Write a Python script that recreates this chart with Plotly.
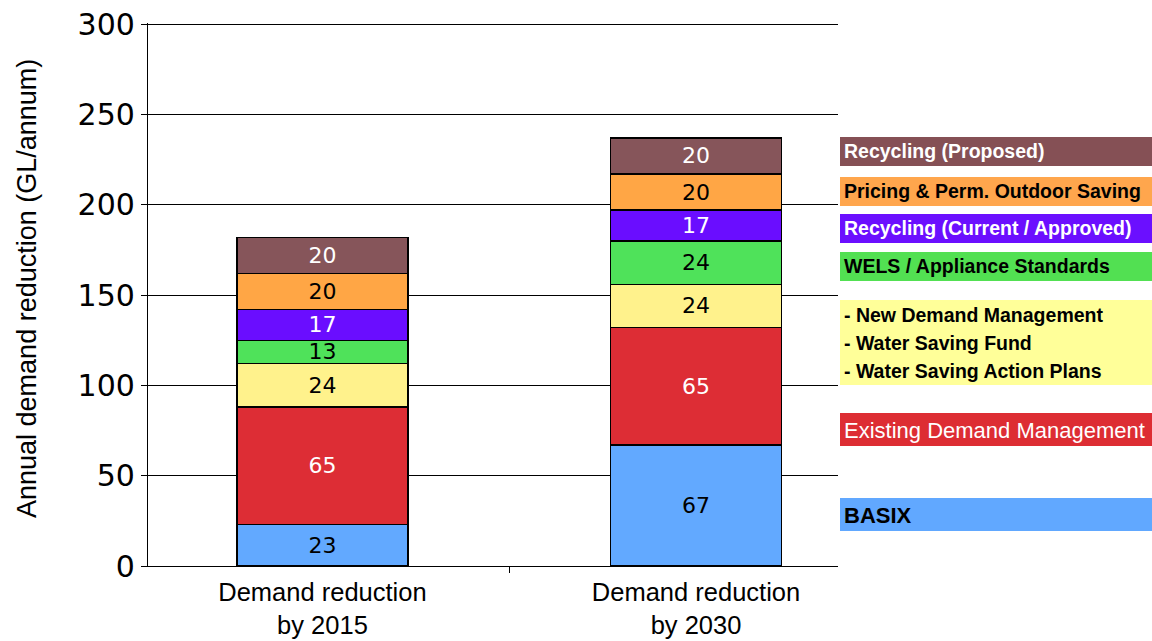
import plotly.graph_objects as go

# ---------------- data ----------------
categories = ["Demand reduction<br>by 2015", "Demand reduction<br>by 2030"]
series_names = [
    "BASIX",
    "Existing Demand Management",
    "New Demand Management / Water Saving Fund / Water Saving Action Plans",
    "WELS / Appliance Standards",
    "Recycling (Current / Approved)",
    "Pricing & Perm. Outdoor Saving",
    "Recycling (Proposed)",
]
basix = [23, 67]
existing_dm = [65, 65]
new_dm = [24, 24]
wels = [13, 24]
recycling_current = [17, 17]
pricing = [20, 20]
recycling_proposed = [20, 20]
series_values = [basix, existing_dm, new_dm, wels, recycling_current, pricing, recycling_proposed]

legend_lines = [
    ["BASIX"],
    ["Existing Demand Management"],
    ["- New Demand Management", "- Water Saving Fund", "- Water Saving Action Plans"],
    ["WELS / Appliance Standards"],
    ["Recycling (Current / Approved)"],
    ["Pricing & Perm. Outdoor Saving"],
    ["Recycling (Proposed)"],
]
y_tick_values = [0, 50, 100, 150, 200, 250, 300]
y_title = "Annual demand reduction (GL/annum)"

# ---------------- styles ----------------
bar_colors = ["#62A9FF", "#DD2D35", "#FFF28C", "#4FE25A", "#6A0DFF", "#FFA645", "#86555A"]
legend_box_colors = ["#61A8FF", "#DD2D33", "#FFFF99", "#52E052", "#6B0FFF", "#FFA64D", "#855055"]
label_colors = ["black", "white", "black", "black", "white", "black", "white"]
legend_bold = [True, False, True, True, True, True, True]
legend_font_size = [22, 22, 19.5, 19.5, 19.5, 19.5, 19.5]
# legend box pixel geometry (top, bottom) and text line centres
legend_box_px = [(498, 531), (413, 446), (300, 385), (252, 281), (214, 243), (177, 206), (137, 166)]
legend_text_px = [[515], [430], [315, 343, 371], [266], [228], [191], [151]]

L, R, T, B = 148, 838, 23, 566
W, H = 1152, 641
PW, PH = R - L, B - T


def px_x(x):
    return (x - L) / PW


def px_y(y):
    return (B - y) / PH


ARIAL = "Liberation Sans, Arial, sans-serif"
VERDANA = "DejaVu Sans, Verdana, sans-serif"

fig = go.Figure()
for name, vals, col, lc in zip(series_names, series_values, bar_colors, label_colors):
    fig.add_trace(go.Bar(
        x=categories, y=vals, name=name,
        marker=dict(color=col, line=dict(color="black", width=1.3)),
        width=0.458,
        text=vals, texttemplate="%{text}", textposition="inside",
        insidetextanchor="middle", constraintext="none", textangle=0,
        textfont=dict(family=VERDANA, size=22, color=lc),
        hoverinfo="skip",
    ))

shapes = []
annotations = []
for (top, bot), col, lines, ys, bold, fs, tc in zip(
        legend_box_px, legend_box_colors, legend_lines, legend_text_px,
        legend_bold, legend_font_size, label_colors):
    shapes.append(dict(type="rect", xref="paper", yref="paper",
                       x0=px_x(840), x1=px_x(1152), y0=px_y(bot), y1=px_y(top),
                       fillcolor=col, line=dict(width=0), layer="above"))
    for line, yy in zip(lines, ys):
        annotations.append(dict(
            xref="paper", yref="paper", x=px_x(842), y=px_y(yy),
            xanchor="left", yanchor="middle", showarrow=False,
            text=f"<b>{line}</b>" if bold else line,
            font=dict(family=ARIAL, size=fs, color=tc),
        ))

annotations.append(dict(
    xref="paper", yref="paper", x=px_x(27), y=px_y(289),
    xanchor="center", yanchor="middle", showarrow=False, textangle=-90,
    text=y_title, font=dict(family=ARIAL, size=27, color="black"),
))

fig.update_layout(
    barmode="stack",
    width=W, height=H,
    margin=dict(l=L, r=W - R, t=T, b=H - B, autoexpand=False),
    paper_bgcolor="white", plot_bgcolor="white",
    showlegend=False,
    shapes=shapes, annotations=annotations,
    xaxis=dict(
        type="category", range=[-0.467, 1.380], automargin=False,
        showline=True, linecolor="black", linewidth=1.3,
        ticks="outside", tickson="boundaries", ticklen=6, tickcolor="black",
        showgrid=False, ticklabelstandoff=3,
        tickfont=dict(family=ARIAL, size=25.5, color="black"),
    ),
    yaxis=dict(
        range=[0, 300.6], tickvals=y_tick_values, automargin=False,
        showline=True, linecolor="black", linewidth=1.3,
        ticks="outside", ticklen=6, tickcolor="black",
        showgrid=True, gridcolor="black", gridwidth=1,
        zeroline=False,
        tickfont=dict(family=VERDANA, size=30, color="black"),
    ),
)

fig.write_html("out.html")
